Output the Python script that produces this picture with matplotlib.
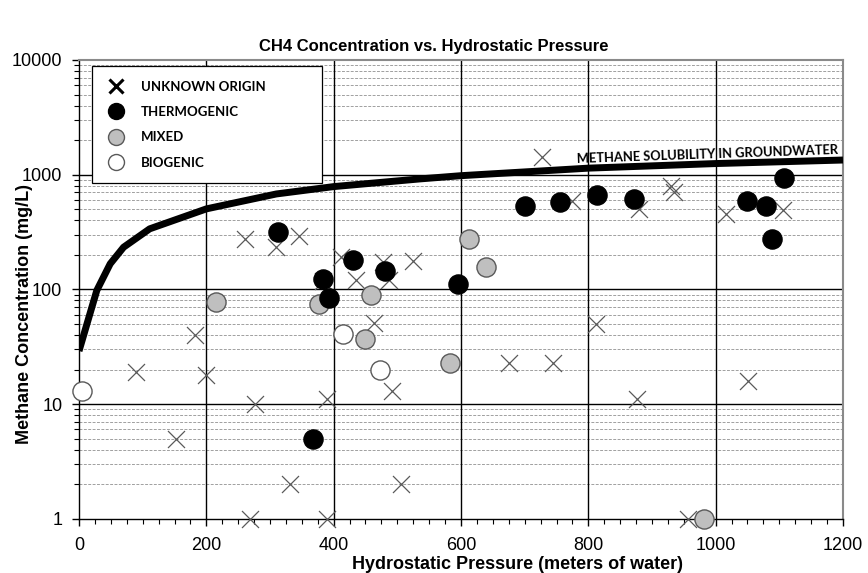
import matplotlib
matplotlib.use("Agg")
import matplotlib.pyplot as plt
from matplotlib.ticker import FixedLocator, NullFormatter, FixedFormatter
from matplotlib.lines import Line2D

# ---- data ----
unknown_x = [90, 152, 182, 200, 260, 268, 276, 310, 331, 345, 383, 389, 390, 412,
             435, 463, 477, 487, 492, 506, 525, 675, 727, 745, 775, 812, 877, 880,
             930, 935, 957, 1017, 1051, 1105]
unknown_y = [19, 5, 40, 18, 275, 1, 10, 233, 2, 290, 118, 1, 11, 190,
             120, 51, 172, 120, 13, 2, 176, 23, 1430, 23, 590, 50, 11, 500,
             800, 700, 1, 455, 16, 490]

thermo_x = [312, 367, 383, 393, 430, 480, 595, 700, 755, 813, 872, 1050, 1079, 1089, 1107]
thermo_y = [315, 5, 124, 84, 182, 144, 112, 537, 575, 670, 615, 595, 530, 275, 940]

mixed_x = [215, 377, 450, 458, 582, 612, 640, 981]
mixed_y = [77, 75, 37, 90, 23, 276, 156, 1]

bio_x = [5, 415, 473]
bio_y = [13, 41, 20]

sol_x = [0, 28, 49, 70, 111, 200, 310, 400, 535, 600, 800, 1000, 1200]
sol_y = [29, 98, 167, 233, 337, 503, 679, 787, 918, 980, 1140, 1250, 1342]

x_ticks = [0, 200, 400, 600, 800, 1000, 1200]
y_ticks = [1, 10, 100, 1000, 10000]
y_tick_labels = ["1", "10", "100", "1000", "10000"]

legend_labels = ["UNKNOWN ORIGIN", "THERMOGENIC", "MIXED", "BIOGENIC"]

# ---- figure ----
W, H = 868, 573
fig = plt.figure(figsize=(W / 100, H / 100), dpi=100)
L, R, T, B = 79, 843, 60, 518.7
ax = fig.add_axes([L / W, 1 - B / H, (R - L) / W, (B - T) / H])
ax.set_yscale("log")
ax.set_xlim(0, 1200)
ax.set_ylim(1, 10000)

# grid
minor_vals = [m * 10 ** e for e in range(0, 4) for m in range(2, 10)]
for v in minor_vals:
    ax.axhline(v, color="#a0a0a0", lw=0.7, ls=(0, (3, 1.5)), zorder=0)
for v in [10, 100, 1000]:
    ax.axhline(v, color="black", lw=1.0, zorder=0.5)
for v in [200, 400, 600, 800, 1000]:
    ax.axvline(v, color="black", lw=1.0, zorder=0.5)

for s in ["top", "right"]:
    ax.spines[s].set_color("#8a8a8a")
    ax.spines[s].set_linewidth(1.5)
for s in ["left", "bottom"]:
    ax.spines[s].set_color("black")
    ax.spines[s].set_linewidth(1.0)

ax.xaxis.set_major_locator(FixedLocator(x_ticks))
ax.xaxis.set_minor_locator(FixedLocator([v for v in range(0, 1201, 25)]))
ax.yaxis.set_major_locator(FixedLocator(y_ticks))
ax.yaxis.set_major_formatter(FixedFormatter(y_tick_labels))
ax.yaxis.set_minor_locator(FixedLocator(minor_vals))
ax.yaxis.set_minor_formatter(NullFormatter())
ax.tick_params(axis="both", which="major", direction="out", length=5, width=1,
               labelsize=13, colors="black")
ax.tick_params(axis="both", which="minor", direction="out", length=3.5, width=0.8)
ax.tick_params(axis="x", which="major", pad=8)
ax.tick_params(axis="y", which="major", pad=7)
for lab in ax.get_xticklabels() + ax.get_yticklabels():
    lab.set_fontfamily("Liberation Sans")

# solubility curve
ax.plot(sol_x, sol_y, color="black", lw=5, solid_capstyle="butt",
        solid_joinstyle="round", zorder=3)
ax.text(1192, 1650, "METHANE SOLUBILITY IN GROUNDWATER", ha="right", va="center",
        rotation=2.0, rotation_mode="anchor", fontsize=9.3, fontweight="bold",
        family=["Lato", "DejaVu Sans"], zorder=6)

# points
ms = 190
ax.scatter(unknown_x, unknown_y, marker="x", s=150, color="#5a5a5a", linewidths=0.9,
           zorder=4, clip_on=False)
ax.scatter(mixed_x, mixed_y, marker="o", s=ms, facecolor="#bfbfbf", edgecolor="#595959",
           linewidths=1.0, zorder=5, clip_on=False)
ax.scatter(bio_x, bio_y, marker="o", s=ms, facecolor="white", edgecolor="#595959",
           linewidths=1.0, zorder=5, clip_on=False)
ax.scatter(thermo_x, thermo_y, marker="o", s=ms, facecolor="black", edgecolor="black",
           linewidths=1.0, zorder=5.5, clip_on=False)

# legend
handles = [
    Line2D([], [], ls="", marker="x", markersize=9.5, markeredgewidth=2.2, color="black"),
    Line2D([], [], ls="", marker="o", markersize=11.5, markerfacecolor="black", markeredgecolor="black"),
    Line2D([], [], ls="", marker="o", markersize=11.5, markerfacecolor="#bfbfbf", markeredgecolor="#595959"),
    Line2D([], [], ls="", marker="o", markersize=11.5, markerfacecolor="white", markeredgecolor="#595959"),
]
bx0 = (92 - L) / (R - L)
bx1 = (322 - L) / (R - L)
by1 = (B - 66) / (B - T)
leg = ax.legend(handles, legend_labels, loc="upper left", mode="expand",
                bbox_to_anchor=(bx0, by1 - 0.3, bx1 - bx0, 0.3),
                frameon=True, fancybox=False, framealpha=1, edgecolor="black",
                borderaxespad=0, borderpad=1.1, labelspacing=1.02, handletextpad=1.2,
                handlelength=1.4,
                prop={"family": ["Lato", "DejaVu Sans"], "weight": "bold", "size": 9.5})
leg.get_frame().set_linewidth(0.9)
leg.set_zorder(7)

# titles
fig.text(0.5, 1 - 47 / H, "CH4 Concentration vs. Hydrostatic Pressure", ha="center",
         va="center", fontsize=12, fontweight="bold", family="Liberation Sans")
fig.text(517 / W, 1 - 564.5 / H, "Hydrostatic Pressure (meters of water)", ha="center",
         va="center", fontsize=13, fontweight="bold", family="Liberation Sans")
fig.text(25 / W, 1 - 314 / H, "Methane Concentration (mg/L)", ha="center",
         va="center", rotation=90, fontsize=13, fontweight="bold", family="Liberation Sans")

fig.savefig("out.png", dpi=100)
